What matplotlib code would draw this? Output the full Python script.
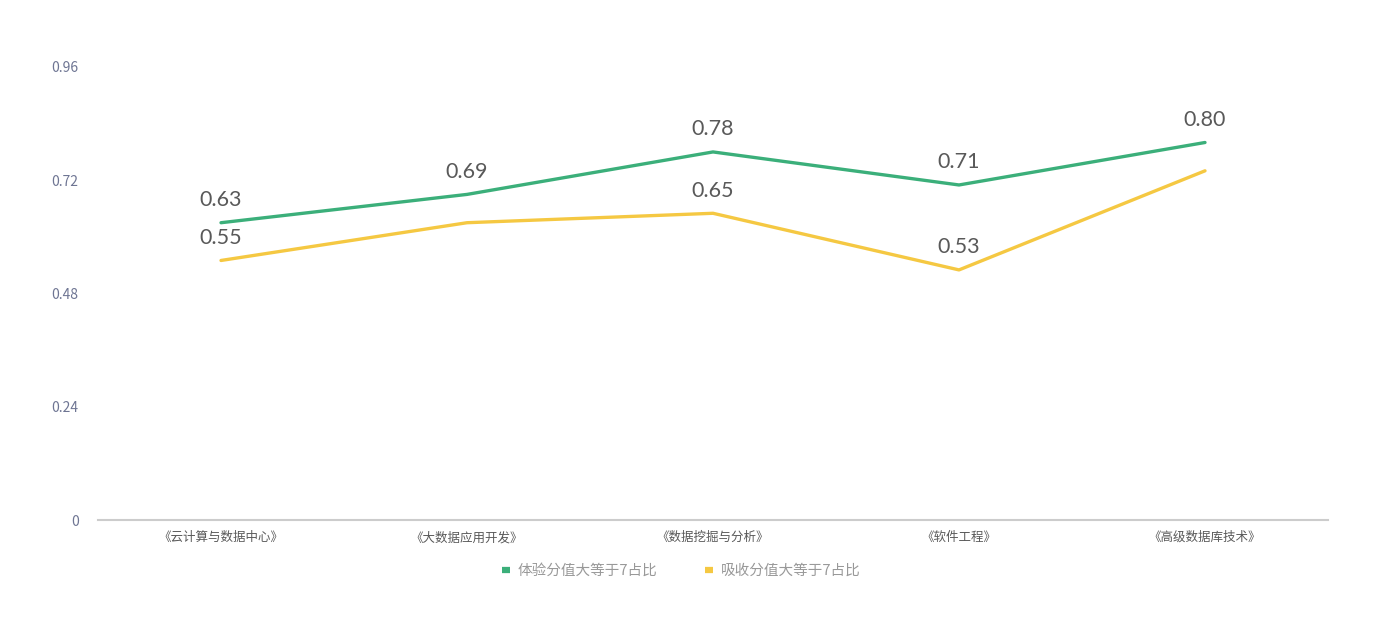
import matplotlib
matplotlib.use("Agg")
import matplotlib.pyplot as plt
from matplotlib.lines import Line2D

plt.rcParams['font.family'] = ['Noto Sans CJK SC', 'DejaVu Sans']

categories = ['《云计算与数据中心》', '《大数据应用开发》', '《数据挖掘与分析》', '《软件工程》', '《高级数据库技术》']
series_names = ['体验分值大等于7占比', '吸收分值大等于7占比']
experience = [0.63, 0.69, 0.78, 0.71, 0.80]
absorb = [0.55, 0.63, 0.65, 0.53, 0.74]
# which point labels are visible (overlapping labels hidden in original)
experience_show = [True, True, True, True, True]
absorb_show = [True, False, True, True, False]
yticks = [0, 0.24, 0.48, 0.72, 0.96]
ytick_labels = ['0', '0.24', '0.48', '0.72', '0.96']

colors = ['#3BAF7A', '#F5C842']

fig = plt.figure(figsize=(13.84, 6.3), dpi=100)
ax = fig.add_axes([98/1384, 1-520/630, 1230/1384, 453/630])

x = list(range(len(categories)))
for vals, show, c in [(experience, experience_show, colors[0]), (absorb, absorb_show, colors[1])]:
    ax.plot(x, vals, color=c, lw=2.4, solid_capstyle='round', solid_joinstyle='round', zorder=3)
    for xi, v, s in zip(x, vals, show):
        if s:
            ax.annotate(f'{v:.2f}', (xi, v), xytext=(0, 9), textcoords='offset points',
                        ha='center', va='bottom', fontsize=15.5, color='#595959',
                        family=['Lato', 'DejaVu Sans'])

ax.set_xlim(-0.5, len(categories) - 0.5)
ax.set_ylim(0, 0.96)
ax.set_yticks(yticks)
ax.set_yticklabels(ytick_labels)
ax.set_xticks(x)
ax.set_xticklabels(categories)
ax.tick_params(axis='y', length=0, pad=14, labelsize=10, labelcolor='#6E7593')
ax.tick_params(axis='x', length=0, pad=8, labelsize=9, labelcolor='#595959')
for sp in ['top', 'right', 'left']:
    ax.spines[sp].set_visible(False)
ax.spines['bottom'].set_color('#CCCCCC')
ax.spines['bottom'].set_linewidth(1.5)

handles = [Line2D([0], [0], color=c, lw=4.5, solid_capstyle='butt') for c in colors]
leg = fig.legend(handles, series_names, loc='center', bbox_to_anchor=(681/1384, 1-571/630),
                 ncol=2, frameon=False, handlelength=0.55, handletextpad=0.5, columnspacing=3.3,
                 fontsize=10.5)
for t in leg.get_texts():
    t.set_color('#999999')

fig.savefig('out.png', dpi=100)
